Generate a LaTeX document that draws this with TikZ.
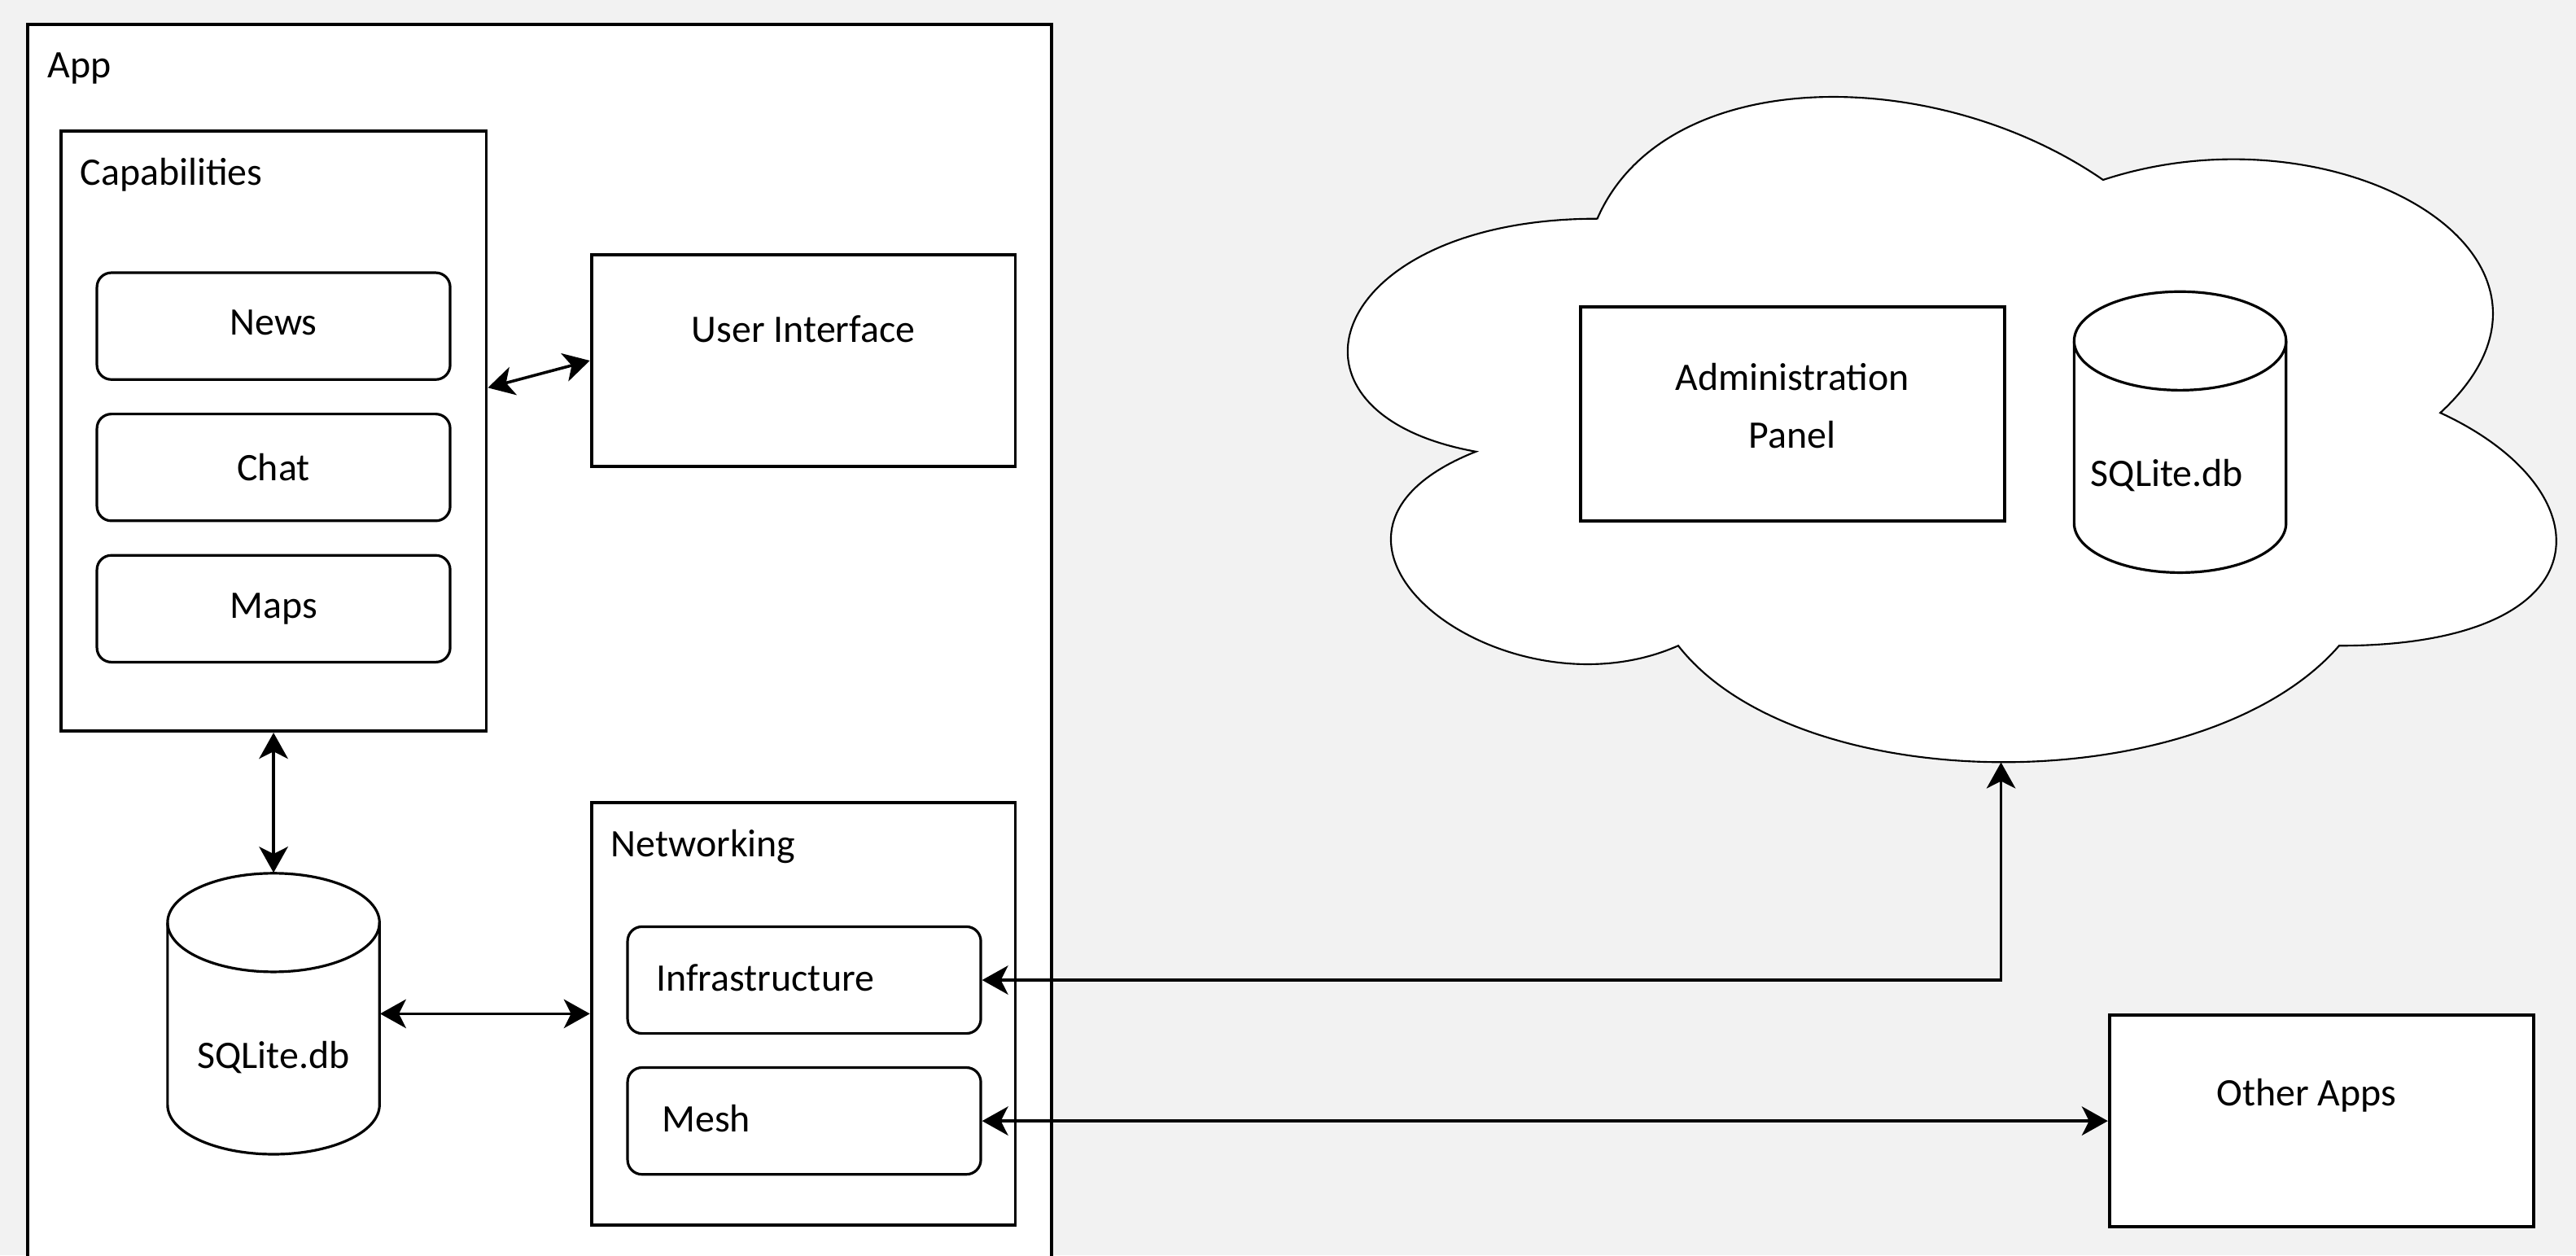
\documentclass[tikz,border=0pt]{standalone}
\usepackage{fontspec}
\setmainfont{Carlito}
\usepackage{xcolor}
\usetikzlibrary{arrows.meta,positioning}
\definecolor{canvas}{HTML}{F2F2F2}

\tikzset{
  box/.style={draw, fill=white, line width=1.1pt, inner sep=0pt,
    minimum width=5.16cm, minimum height=2.58cm},
  toptext/.style={label={[anchor=center,yshift=-0.93cm]north:#1}},
  group/.style={draw, fill=white, line width=1.1pt, inner sep=0pt},
  grouptitle/.style={label={[anchor=west,inner sep=0pt,xshift=0.25cm,yshift=-0.55cm]north west:#1}},
  item/.style={draw, fill=white, rounded corners=5pt, line width=0.9pt,
    minimum width=4.3cm, minimum height=1.3cm},
  leftitem/.style={item, text width=3.6cm, align=left, inner xsep=0.35cm},
  store/.style={inner sep=0pt, minimum width=2.58cm, minimum height=3.42cm,
    label={[xshift=#1,yshift=-0.53cm]center:SQLite.db}},
  store/.default=0cm,
  storeline/.style={draw, fill=white, line width=0.9pt},
  link/.style={<->, line width=1pt},
}
% database drum around a centre point
\newcommand\drum[1]{%
  \draw[storeline] (#1) ++(-1.29,1.11) -- ++(0,-2.22)
    arc[start angle=180, end angle=360, x radius=1.29cm, y radius=0.6cm]
    -- ++(0,2.22)
    arc[start angle=0, end angle=180, x radius=1.29cm, y radius=0.6cm] -- cycle;
  \draw[line width=0.9pt] (#1) ++(-1.29,1.11)
    arc[start angle=180, end angle=360, x radius=1.29cm, y radius=0.6cm];
}

\begin{document}
\begin{tikzpicture}[font=\fontsize{13.5pt}{16pt}\selectfont,
  >={Stealth[length=9pt,width=10pt,inset=2.5pt]}]
\fill[canvas] (0,0) rectangle (31.36,15.28);
\useasboundingbox (0,0) rectangle (31.36,15.28);
\clip (0,0) rectangle (31.36,15.28);

% the app itself
\node[group, grouptitle=App, minimum width=12.46cm, minimum height=15.48cm]
  (app) at (6.57,7.24) {};

\node[group, grouptitle=Capabilities, minimum width=5.18cm, minimum height=7.3cm]
  (cap) at (3.33,10.03) {};
\node[item] (news) at (3.33,11.31) {\raisebox{0.08cm}{News}};
\node[item] (chat) at (3.33,9.59) {Chat};
\node[item] (maps) at (3.33,7.87) {Maps};

\node[box, toptext=User Interface] (ui) at (9.78,10.89) {};

\drum{3.33,2.94}
\node[store] (db) at (3.33,2.94) {};

\node[group, grouptitle=Networking, minimum width=5.16cm, minimum height=5.14cm]
  (net) at (9.78,2.94) {};
\node[leftitem] (infra) at (9.79,3.35) {\raisebox{0.06cm}{Infrastructure}};
\node[leftitem, text width=3.46cm, inner xsep=0.42cm] (mesh) at (9.79,1.635)
  {\raisebox{0.07cm}{Mesh}};

\node[box, label={[anchor=center,xshift=-0.18cm,yshift=-1.0cm]north:Other Apps}]
  (other) at (28.26,1.635) {};

% server side
\begin{scope}[shift={(15.34,5.53)}, x=16.42cm, y=9.45cm]
  \draw[fill=white, line width=0.6pt] (0.25,0.75)
    .. controls (0.05,0.75) and (0,0.5) .. (0.16,0.45)
    .. controls (0,0.34) and (0.18,0.1) .. (0.31,0.2)
    .. controls (0.4,0) and (0.7,0) .. (0.8,0.2)
    .. controls (1,0.2) and (1,0.4) .. (0.875,0.5)
    .. controls (1,0.7) and (0.8,0.9) .. (0.625,0.8)
    .. controls (0.5,0.95) and (0.3,0.95) .. (0.25,0.75) -- cycle;
\end{scope}
\coordinate (cloudbot) at (24.36,6.0);

\node[box, minimum height=2.6cm,
  label={[align=center,yshift=0.1cm,font=\fontsize{13.5pt}{20pt}\selectfont]center:Administration\\Panel}]
  (admin) at (21.82,10.24) {};
\drum{26.54,10.02}
\node[store=-0.16cm] (remotedb) at (26.54,10.02) {};

% links
\draw[link] ([yshift=0.53cm]cap.east) -- (ui.west);
\draw[link] (cap) -- (db);
\draw[link] (db) -- (net);
\draw[link] (infra.east) -| (cloudbot);
\draw[link] (mesh) -- (other);
\end{tikzpicture}
\end{document}
